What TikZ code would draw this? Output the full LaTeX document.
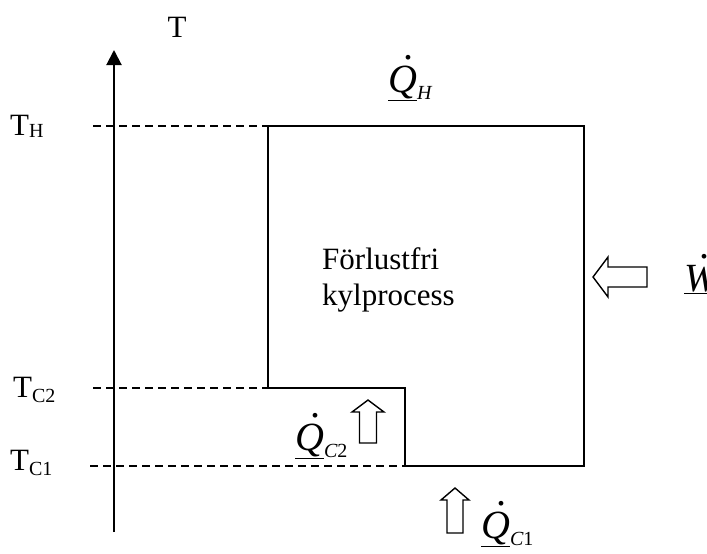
\documentclass[tikz,border=0pt]{standalone}
\usepackage{fontspec}
\setmainfont{Liberation Serif}
\usetikzlibrary{arrows.meta}
\newcommand{\templabel}[2]{T\raisebox{-#2}{\fontsize{20}{20}\selectfont #1}}
\newcommand{\flowlabel}[2]{\underline{\rlap{\hspace{0.38em}\raisebox{0.82em}{.}}\textit{#1}}\raisebox{-7pt}{\fontsize{20}{20}\selectfont #2}}
\tikzset{
  pics/hollow/.style args={#1/#2/#3/#4}{code={
    \draw[heat] (0,-#2/2) -- (#1-#4,-#2/2) -- (#1-#4,-#3/2) -- (#1,0)
      -- (#1-#4,#3/2) -- (#1-#4,#2/2) -- (0,#2/2) -- cycle;}}
}
\begin{document}
\begin{tikzpicture}[x=1pt,y=-1pt,line join=miter,
  txt/.style={font=\fontsize{31}{36}\selectfont,inner sep=0pt},
  flow/.style={font=\fontsize{40}{40}\selectfont,inner sep=0pt},
  axis/.style={line width=2pt,-{Triangle[length=15pt,width=15pt]}},
  proc/.style={line width=1.5pt},
  guide/.style={line width=1.4pt,dash pattern=on 8pt off 5pt},
  heat/.style={line width=1.4pt}]
  \useasboundingbox (0,0) rectangle (707,554);
  \coordinate (axbot) at (114,532);
  \coordinate (axtop) at (114,50);
  \coordinate (hotL) at (268,126);
  \coordinate (hotR) at (584,126);
  \coordinate (coldR) at (584,466);
  \coordinate (coldL) at (405,466);
  \coordinate (midR) at (405,388);
  \coordinate (midL) at (268,388);
  \draw[axis] (axbot) -- (axtop);
  \node[txt,anchor=base] (tlab) at (177,37) {T};
  \node[txt,anchor=base west] (th) at (10,135) {\templabel{H}{2pt}};
  \node[txt,anchor=base west] (tc2) at (13,397) {\templabel{C2}{5pt}};
  \node[txt,anchor=base west] (tc1) at (10,470) {\templabel{C1}{5pt}};
  \draw[guide] (93,126) -- (hotL);
  \draw[guide] (93,388) -- (midL);
  \draw[guide] (90,466) -- (coldL);
  \draw[proc] (hotL) -- (hotR) -- (coldR) -- (coldL) -- (midR) -- (midL) -- cycle;
  \node[txt,align=left,anchor=north west] (proc) at (322,247) {Förlustfri\\kylprocess};
  \node[flow,anchor=base west] (qh) at (388,92) {\flowlabel{Q}{\itshape H}};
  \node[flow,anchor=base west] (qc2) at (295,450) {\flowlabel{Q}{\itshape C\upshape 2}};
  \node[flow,anchor=base west] (qc1) at (481,538) {\flowlabel{Q}{\itshape C\upshape 1}};
  \node[flow,anchor=base west] (wdot) at (684,291) {\flowlabel{W}{}};
  \pic[rotate=180] at (647,277) {hollow=54/20/40/15};
  \pic[rotate=90] at (368,443) {hollow=43/17/32/12};
  \pic[rotate=90] at (455,533) {hollow=45/16/28/12};
\end{tikzpicture}
\end{document}
